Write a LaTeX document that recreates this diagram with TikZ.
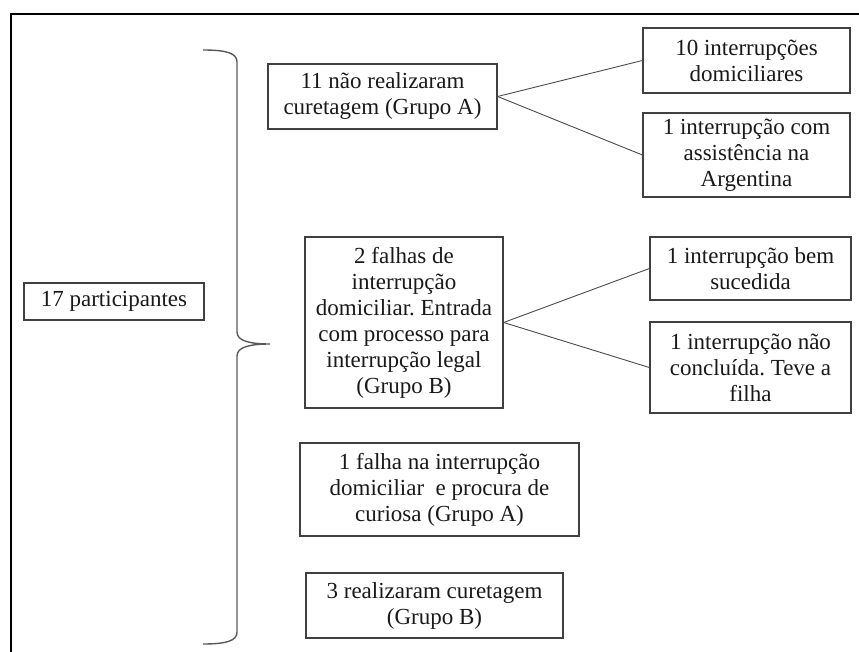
\documentclass[tikz,border=0pt]{standalone}
\usepackage{fontspec}
\setmainfont{Liberation Serif}
\frenchspacing
\begin{document}
\begin{tikzpicture}[x=1pt,y=-1pt,
  box/.style={draw=black!75, line width=1.2pt, inner sep=0pt, align=center,
    font=\fontsize{23}{26}\selectfont, text=black!90},
  link/.style={draw=black!70, line width=0.9pt},
  brace/.style={draw=black!65, line width=1.4pt}]
\useasboundingbox (0,0) rectangle (859,652);
\draw[black, line width=1.8pt] (11,652) -- (11,14) -- (859,14);

\node[box, minimum width=180pt, minimum height=37pt] (p17) at (114,301.5) {17 participantes};

\node[box, minimum width=229pt, minimum height=65pt] (a1) at (382.5,96.5) {11 não realizaram\\curetagem (Grupo A)};
\node[box, minimum width=207pt, minimum height=65pt] (a11) at (746.5,60.5) {10 interrupções\\domiciliares};
\node[box, minimum width=207pt, minimum height=84pt] (a12) at (746.5,155) {1 interrupção com\\assistência na\\Argentina};

\node[box, minimum width=198pt, minimum height=171pt] (b1) at (404,322.5) {2 falhas de\\interrupção\\domiciliar. Entrada\\com processo para\\interrupção legal\\(Grupo B)};
\node[box, minimum width=201pt, minimum height=63pt] (b11) at (750.5,268.5) {1 interrupção bem\\sucedida};
\node[box, minimum width=201pt, minimum height=91pt] (b12) at (750.5,367.5) {1 interrupção não\\concluída. Teve a\\filha};

\node[box, minimum width=279pt, minimum height=93pt] (c1) at (439.5,489.5) {1 falha na interrupção\\domiciliar\ \ e procura de\\curiosa (Grupo A)};
\node[box, minimum width=257pt, minimum height=65pt] (d1) at (434.5,605.5) {3 realizaram curetagem\\(Grupo B)};

\draw[link] (a1.east) -- (a11.west);
\draw[link] (a1.east) -- (a12.west);
\draw[link] (b1.east) -- (b11.west);
\draw[link] (b1.east) -- (b12.west);

\coordinate (btop) at (203,50);
\coordinate (btip) at (270,344);
\coordinate (bbot) at (203,644);
\draw[brace] (btop) .. controls (226,50) and (237,53) .. (237,62)
  -- (237,332) .. controls (237,341) and (250,344) .. (btip)
  .. controls (250,344) and (237,347) .. (237,356)
  -- (237,632) .. controls (237,641) and (226,644) .. (bbot);
\end{tikzpicture}
\end{document}
